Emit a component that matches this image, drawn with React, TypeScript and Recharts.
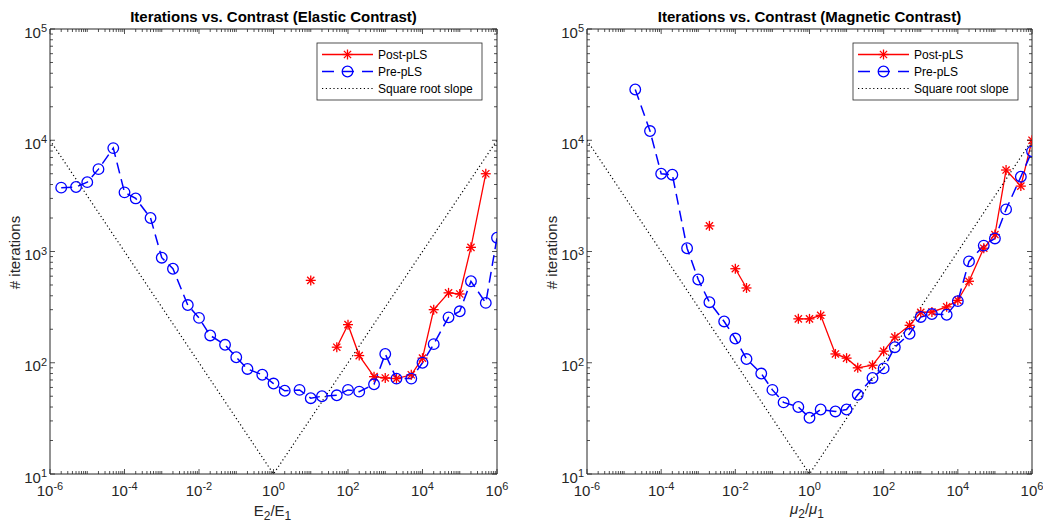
import React from 'react';
import { LineChart, Line, XAxis, YAxis } from 'recharts';

// contrast ratios on the x axis (1-2-5 steps)
const contrast = [
  1e-6, 2e-6, 5e-6, 1e-5, 2e-5, 5e-5, 1e-4, 2e-4, 5e-4, 1e-3, 2e-3, 5e-3,
  1e-2, 2e-2, 5e-2, 0.1, 0.2, 0.5, 1, 2, 5, 10, 20, 50, 100, 200, 500,
  1e3, 2e3, 5e3, 1e4, 2e4, 5e4, 1e5, 2e5, 5e5, 1e6,
];

const elasticPre = [
  null, 3750, 3800, 4200, 5500, 8500, 3400, 3000, 2000, 880, 700, 330,
  253, 176, 145, 112, 88, 78, 65, 56, 57, 48, 50, 51, 57, 55, 64,
  120, 72, 72, 100, 147, 256, 290, 540, 345, 1330,
];
const elasticPost = [
  null, null, null, null, null, null, null, null, null, null, null, null,
  null, null, null, null, null, null, null, null, null, 550, null, 138, 220, 116, 75,
  73, 72, 78, 110, 300, 425, 415, 1090, 5000, null,
];
const magneticPre = [
  null, null, null, null, 28600, 12100, 5000, 4900, 1070, 560, 350, 235,
  165, 108, 80, 57, 44, 40, 32, 38, 36.5, 38, 51.5, 73, 89, 138, 182,
  258, 274, 270, 358, 815, 1130, 1310, 2390, 4700, 7950,
];
const magneticPost = [
  null, null, null, null, null, null, null, null, null, null, 1700, null,
  700, 470, null, null, null, 248, 248, 267, 120, 110, 90, 95, 127, 170, 217,
  284, 286, 318, 364, 540, 1070, 1420, 5400, 3870, 10000,
];

// square root slope reference (V shape)
const slopeX = [1e-6, 1, 1e6];
const slopeY = [1e4, 10, 1e4];

const xLabelExps = [-6, -4, -2, 0, 2, 4, 6];
const yLabelExps = [1, 2, 3, 4, 5];

const INK = '#262626';
const FONT = '"Liberation Sans", Arial, Helvetica, sans-serif';

const logTicks = (lo: number, hi: number) => {
  const t: number[] = [];
  for (let e = lo; e < hi; e++) for (let d = 1; d < 10; d++) t.push(d * Math.pow(10, e));
  t.push(Math.pow(10, hi));
  return t;
};
const xTicks = logTicks(-6, 6);
const yTicks = logTicks(1, 5);

const expOf = (v: number) => {
  const e = Math.log10(v);
  return Math.abs(e - Math.round(e)) < 1e-6 ? Math.round(e) : null;
};

const makeRows = (pre: (number | null)[], post: (number | null)[]) =>
  contrast.map((x, i) => {
    const k = slopeX.indexOf(x);
    return { x, pre: pre[i], post: post[i], slope: k >= 0 ? slopeY[k] : null };
  });

const XTick = (props: any) => {
  const { x, y, payload, side } = props;
  const e = expOf(payload.value);
  const major = e !== null && xLabelExps.includes(e);
  const len = major ? 5 : 3;
  const dir = side === 'top' ? 1 : -1;
  return (
    <g>
      <line x1={x} x2={x} y1={y} y2={y + dir * len} stroke={INK} strokeWidth={0.8} />
      {major && side !== 'top' && (
        <text x={x} y={y + 22} textAnchor="middle" fontFamily={FONT} fontSize={15} fill={INK}>
          10<tspan dy={-6} fontSize={11}>{e}</tspan>
        </text>
      )}
    </g>
  );
};

const YTick = (props: any) => {
  const { x, y, payload, side } = props;
  const e = expOf(payload.value);
  const major = e !== null && yLabelExps.includes(e);
  const len = major ? 5 : 3;
  const dir = side === 'right' ? -1 : 1;
  return (
    <g>
      <line x1={x} x2={x + dir * len} y1={y} y2={y} stroke={INK} strokeWidth={0.8} />
      {major && side !== 'right' && (
        <text x={x - 3} y={y + 8.5} textAnchor="end" fontFamily={FONT} fontSize={15} fill={INK}>
          10<tspan dy={-5.5} fontSize={11}>{e}</tspan>
        </text>
      )}
    </g>
  );
};

const Star = ({ cx, cy }: { cx: number; cy: number }) => {
  const r = 5;
  const d = r * 0.72;
  return (
    <g stroke="#ff0000" strokeWidth={1.3}>
      <line x1={cx - r} x2={cx + r} y1={cy} y2={cy} />
      <line x1={cx} x2={cx} y1={cy - r} y2={cy + r} />
      <line x1={cx - d} x2={cx + d} y1={cy - d} y2={cy + d} />
      <line x1={cx - d} x2={cx + d} y1={cy + d} y2={cy - d} />
    </g>
  );
};

const Ring = ({ cx, cy }: { cx: number; cy: number }) => (
  <circle cx={cx} cy={cy} r={5.3} fill="none" stroke="#0000ff" strokeWidth={1.3} />
);

const starDot = (p: any) =>
  p.cx == null || p.cy == null || p.value == null ? (
    <g key={`s${p.index}`} />
  ) : (
    <g key={`s${p.index}`}>
      <Star cx={p.cx} cy={p.cy} />
    </g>
  );

const ringDot = (p: any) =>
  p.cx == null || p.cy == null || p.value == null ? (
    <g key={`r${p.index}`} />
  ) : (
    <g key={`r${p.index}`}>
      <Ring cx={p.cx} cy={p.cy} />
    </g>
  );

const BLUE_DASH = '11 6';
const DOTS = '1.2 2.6';

type PanelProps = {
  plotLeft: number;
  plotRight: number;
  rows: any[];
};

// axes are 1px wide/high so they still render; margins are reduced by that pixel
const Plot = ({ plotLeft, plotRight, rows }: PanelProps) => (
  <div style={{ position: 'absolute', left: 0, top: 0 }}>
    <LineChart
      width={1043}
      height={522}
      data={rows}
      margin={{ top: 28, bottom: 47, left: plotLeft - 1, right: 1043 - plotRight - 1 }}
    >
      <XAxis
        dataKey="x"
        type="number"
        scale="log"
        domain={[1e-6, 1e6]}
        allowDataOverflow
        ticks={xTicks}
        interval={0}
        height={1}
        tickSize={0}
        tickMargin={0}
        tickLine={false}
        axisLine={{ stroke: INK, strokeWidth: 1 }}
        tick={<XTick side="bottom" />}
      />
      <XAxis
        xAxisId="top"
        orientation="top"
        dataKey="x"
        type="number"
        scale="log"
        domain={[1e-6, 1e6]}
        allowDataOverflow
        ticks={xTicks}
        interval={0}
        height={1}
        tickSize={0}
        tickMargin={0}
        tickLine={false}
        axisLine={{ stroke: INK, strokeWidth: 1 }}
        tick={<XTick side="top" />}
      />
      <YAxis
        type="number"
        scale="log"
        domain={[10, 1e5]}
        allowDataOverflow
        ticks={yTicks}
        interval={0}
        width={1}
        tickSize={0}
        tickMargin={0}
        tickLine={false}
        axisLine={{ stroke: INK, strokeWidth: 1 }}
        tick={<YTick side="left" />}
      />
      <YAxis
        yAxisId="right"
        orientation="right"
        type="number"
        scale="log"
        domain={[10, 1e5]}
        allowDataOverflow
        ticks={yTicks}
        interval={0}
        width={1}
        tickSize={0}
        tickMargin={0}
        tickLine={false}
        axisLine={{ stroke: INK, strokeWidth: 1 }}
        tick={<YTick side="right" />}
      />
      <Line
        dataKey="post"
        type="linear"
        stroke="#ff0000"
        strokeWidth={1.3}
        dot={starDot}
        activeDot={false}
        isAnimationActive={false}
      />
      <Line
        dataKey="pre"
        type="linear"
        stroke="#0000ff"
        strokeWidth={1.5}
        strokeDasharray={BLUE_DASH}
        dot={ringDot}
        activeDot={false}
        isAnimationActive={false}
      />
      <Line
        dataKey="slope"
        type="linear"
        stroke="#000000"
        strokeWidth={1.2}
        strokeDasharray={DOTS}
        connectNulls
        dot={false}
        activeDot={false}
        isAnimationActive={false}
      />
    </LineChart>
  </div>
);

const Legend = ({ left }: { left: number }) => {
  const top = 43;
  const x0 = left + 5;
  const x1 = left + 56;
  const xm = (x0 + x1) / 2;
  const tx = left + 61;
  const rows = [top + 11.5, top + 28.5, top + 45.5];
  return (
    <g>
      <rect x={left} y={top} width={165} height={57} fill="#fff" stroke={INK} strokeWidth={0.8} />
      <line x1={x0} x2={x1} y1={rows[0]} y2={rows[0]} stroke="#ff0000" strokeWidth={1.3} />
      <Star cx={xm} cy={rows[0]} />
      <line x1={x0} x2={x1} y1={rows[1]} y2={rows[1]} stroke="#0000ff" strokeWidth={1.5} strokeDasharray="12 8" />
      <Ring cx={xm} cy={rows[1]} />
      <line x1={x0} x2={x1} y1={rows[2]} y2={rows[2]} stroke="#000" strokeWidth={1.2} strokeDasharray={DOTS} />
      {['Post-pLS', 'Pre-pLS', 'Square root slope'].map((t, i) => (
        <text key={t} x={tx} y={rows[i] + 4.3} fontFamily={FONT} fontSize={12} fill="#000">
          {t}
        </text>
      ))}
    </g>
  );
};

const Labels = () => (
  <svg width={1043} height={522} style={{ position: 'absolute', left: 0, top: 0, pointerEvents: 'none' }}>
    <g fontFamily={FONT} fill="#000">
      <text x={273.5} y={21.5} textAnchor="middle" fontWeight="bold" fontSize={15}>
        Iterations vs. Contrast (Elastic Contrast)
      </text>
      <text x={809.5} y={21.5} textAnchor="middle" fontWeight="bold" fontSize={15}>
        Iterations vs. Contrast (Magnetic Contrast)
      </text>
    </g>
    <g fontFamily={FONT} fill={INK} fontSize={15}>
      <text x={20} y={252.5} textAnchor="middle" transform="rotate(-90 20 252.5)">
        # iterations
      </text>
      <text x={557} y={252.5} textAnchor="middle" transform="rotate(-90 557 252.5)">
        # iterations
      </text>
      <text x={272.5} y={515.5} textAnchor="middle">
        E<tspan dy={4} fontSize={12}>2</tspan>
        <tspan dy={-4}>/E</tspan>
        <tspan dy={4} fontSize={12}>1</tspan>
      </text>
      <text x={807} y={514} textAnchor="middle">
        <tspan fontStyle="italic">μ</tspan>
        <tspan dy={4} fontSize={12}>2</tspan>
        <tspan dy={-4}>/</tspan>
        <tspan fontStyle="italic">μ</tspan>
        <tspan dy={4} fontSize={12}>1</tspan>
      </text>
    </g>
    <Legend left={317} />
    <Legend left={853} />
  </svg>
);

const elasticRows = makeRows(elasticPre, elasticPost);
const magneticRows = makeRows(magneticPre, magneticPost);

export default function App() {
  return (
    <div style={{ position: 'absolute', left: 0, top: 0, width: 1043, height: 522, background: '#fff' }}>
      <Plot plotLeft={50} plotRight={497} rows={elasticRows} />
      <Plot plotLeft={587} plotRight={1032} rows={magneticRows} />
      <Labels />
    </div>
  );
}
